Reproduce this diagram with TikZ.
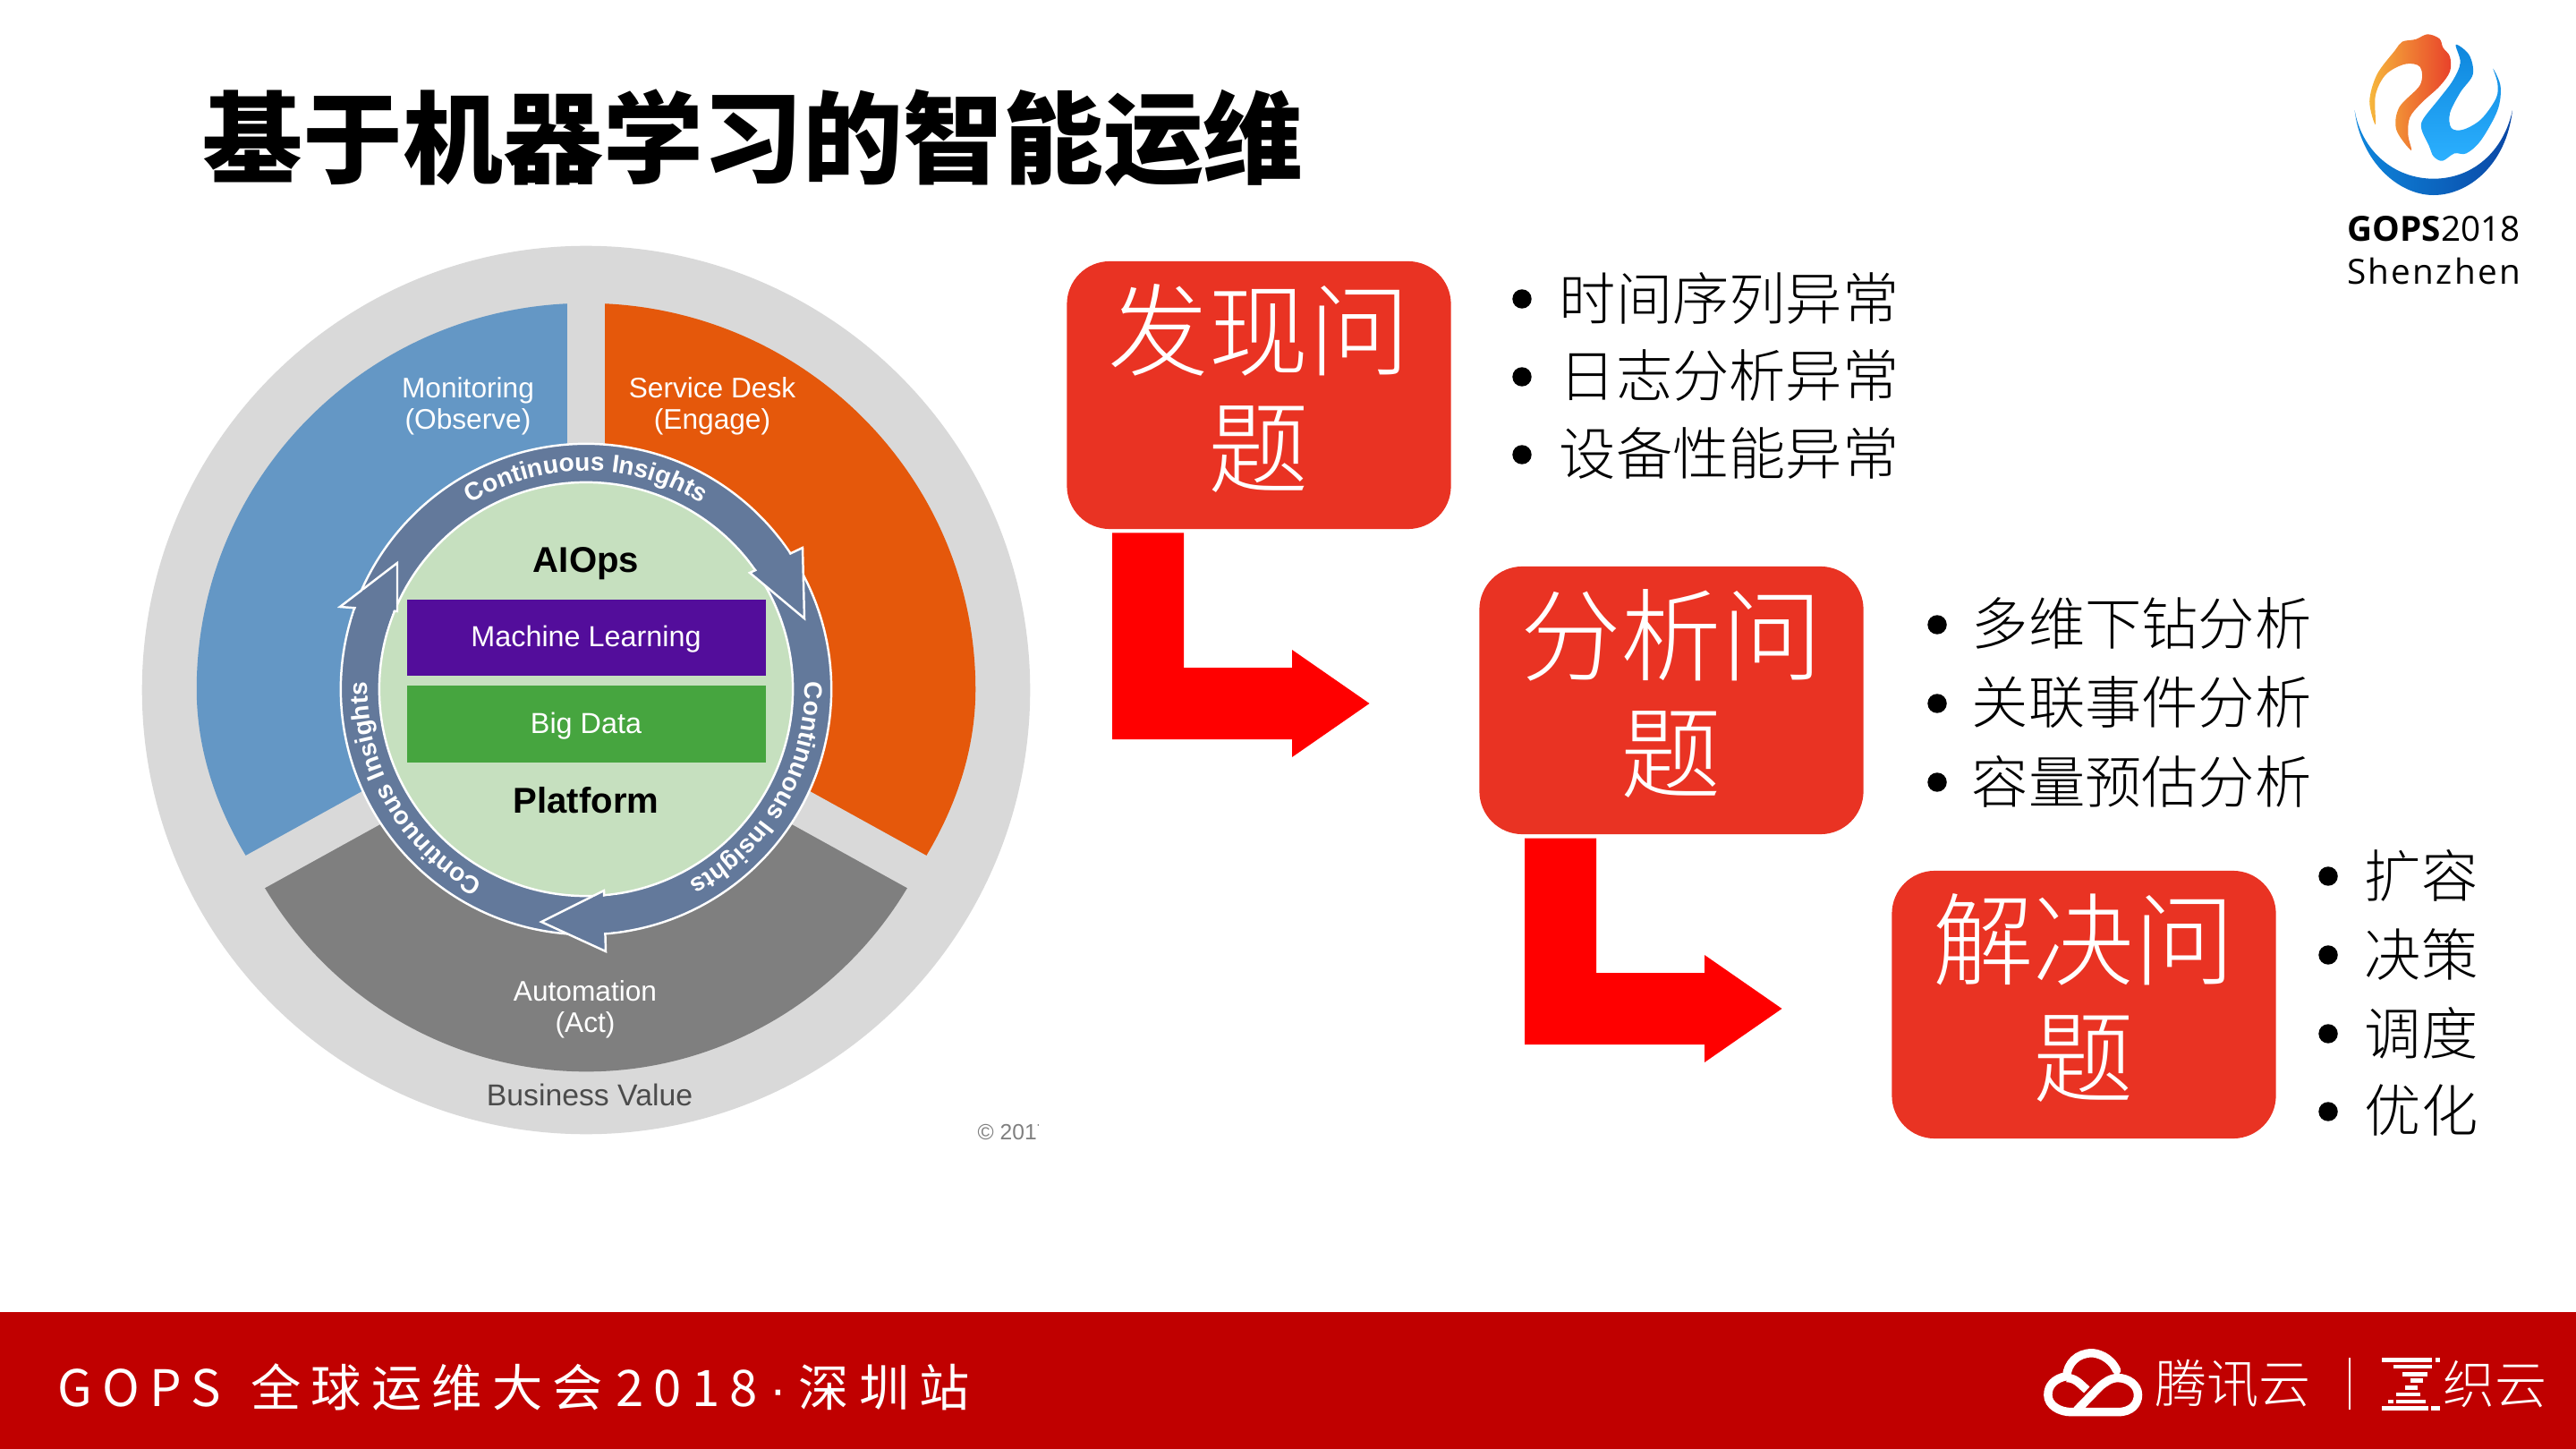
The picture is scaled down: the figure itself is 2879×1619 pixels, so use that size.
\documentclass[tikz,border=0pt]{standalone}
\usepackage{fontspec}
\setmainfont{Liberation Sans}
\newfontfamily\cjkthin{Noto Sans CJK SC Light}
\newfontfamily\cjkwide[LetterSpace=20]{Noto Sans CJK SC}
\newfontfamily\cjkblack{Noto Sans CJK SC Black}
\newfontfamily\logofont{Open Sans}
\newfontfamily\logowide[LetterSpace=6]{Open Sans}
\usetikzlibrary{decorations.text}
\definecolor{ringgray}{HTML}{D9D9D9}
\definecolor{monblue}{HTML}{6497C5}
\definecolor{deskorange}{HTML}{E5580B}
\definecolor{actgray}{HTML}{7F7F7F}
\definecolor{slateblue}{HTML}{63799B}
\definecolor{discgreen}{HTML}{C6E0BF}
\definecolor{mlpurple}{HTML}{530D9B}
\definecolor{datagreen}{HTML}{46A53F}
\definecolor{boxred}{HTML}{E93323}
\definecolor{barred}{HTML}{C00000}
\definecolor{logoyellow}{HTML}{F6B73C}
\definecolor{logored}{HTML}{E8412A}
\definecolor{logoblue}{HTML}{0E86DC}
\definecolor{logosky}{HTML}{2BB0FF}
\definecolor{logonavy}{HTML}{0A47A5}
\newcommand{\ringtext}{\fontsize{8}{10}\selectfont\bfseries\color{white}}
\tikzset{
	segtext/.style={inner sep=0pt,align=center,text=white,font=\fontsize{9}{10}\selectfont},
	bartext/.style={inner sep=0pt,text=white,font=\fontsize{9.2}{10}\selectfont},
	coretext/.style={inner sep=0pt,font=\fontsize{11.4}{13}\selectfont\bfseries},
	probbox/.style={fill=boxred,rounded corners=0.48cm,minimum width=4.29cm,minimum height=2.99cm,inner sep=0pt},
	probtext/.style={inner sep=0pt,align=center,text=white,font=\cjkthin\fontsize{32}{37.5}\selectfont},
	itemtext/.style={anchor=west,inner sep=0pt,font=\cjkthin\fontsize{18}{20}\selectfont},
	footlogo/.style={anchor=west,inner sep=0pt,text=white,font=\cjkthin\fontsize{16.5}{18}\selectfont},
	ringtip/.style={fill=slateblue,draw=white,line width=0.7pt,line join=miter},
	ringcover/.style={draw=slateblue,line width=0.4cm}
}
\begin{document}
\begin{tikzpicture}[x=0.01cm,y=-0.01cm]
	\useasboundingbox (0,0) rectangle (2879,1619);

	\node[anchor=west,inner sep=0pt,font=\cjkblack\fontsize{31.8}{36}\selectfont] (title) at (226,154) {基于机器学习的智能运维};

	\draw[fill][ringgray][draw=none] (655,771) circle [radius=4.96cm];
	\begin{scope}[shift={(655,770)},x=0.01cm,y=0.01cm]
		\fill[monblue] (0,0) -- (90:4.35cm and 4.31cm) arc[start angle=90,end angle=180,x radius=4.35cm,y radius=4.31cm] .. controls (-4.35cm,-0.75cm) and (-4.08cm,-1.45cm) .. (-3.68cm,-2.05cm) -- cycle;
		\fill[deskorange] (0,0) -- (90:4.35cm and 4.31cm) arc[start angle=90,end angle=0,x radius=4.35cm,y radius=4.31cm] .. controls (4.35cm,-0.75cm) and (4.08cm,-1.45cm) .. (3.68cm,-2.05cm) -- cycle;
		\fill[actgray] (0,0) -- (208:4.2cm and 4.27cm) arc[start angle=208,end angle=332,x radius=4.2cm,y radius=4.27cm] -- cycle;
		\draw[line width=0.42cm][ringgray] (0,0) -- (90:4.5cm);
		\draw[line width=0.42cm][ringgray] (0,0) -- (208.9:4.5cm);
		\draw[line width=0.42cm][ringgray] (0,0) -- (331.1:4.5cm);
		\draw[fill][slateblue][draw=white,line width=0.7pt] (0,0) circle [radius=2.74cm];
		\draw[fill][discgreen][draw=white,line width=0.7pt] (0,0) circle [radius=2.31cm];
	\end{scope}
	\draw[ringtip] (897,612) -- (899,691) -- (838,640) -- cycle;
	\draw[ringtip] (605,1030) -- (675,995) -- (677,1063) -- cycle;
	\draw[ringtip] (444,629) -- (380,678) -- (444,683) -- cycle;
	\begin{scope}[shift={(655,770)},x=0.01cm,y=0.01cm]
		\draw[ringcover] (31:2.525cm) arc[start angle=31,end angle=38,radius=2.525cm];
		\draw[ringcover] (-88:2.525cm) arc[start angle=-88,end angle=-81,radius=2.525cm];
		\draw[ringcover] (156:2.525cm) arc[start angle=156,end angle=164,radius=2.525cm];
		\path[decorate,decoration={text along path,text align=center,text={|\ringtext|Continuous Insights}}] (123:2.44cm) arc[start angle=123,end angle=57,radius=2.44cm];
		\path[decorate,decoration={text along path,text align=center,text={|\ringtext|Continuous Insights}}] (2:2.44cm) arc[start angle=2,end angle=-62,radius=2.44cm];
		\path[decorate,decoration={text along path,text align=center,text={|\ringtext|Continuous Insights}}] (242:2.44cm) arc[start angle=242,end angle=178,radius=2.44cm];
	\end{scope}

	\draw[fill][mlpurple][draw=none] (455,670) rectangle (856,755);
	\draw[fill][datagreen][draw=none] (455,766) rectangle (856,852);
	\node[segtext] (monitor) at (523,454) {Monitoring\\(Observe)};
	\node[segtext] (desk) at (796,454) {Service Desk\\(Engage)};
	\node[segtext] (auto) at (654,1128) {Automation\\(Act)};
	\node[segtext,text=black!70,font=\fontsize{9.6}{11}\selectfont] (value) at (659,1223) {Business Value};
	\node[coretext] (aiops) at (655,630) {AIOps};
	\node[bartext] (ml) at (655,714) {Machine Learning};
	\node[bartext] (bigdata) at (655,811) {Big Data};
	\node[coretext] (platform) at (655,894) {Platform};
	\begin{scope}
		\clip (1080,1240) rectangle (1160,1290);
		\node[anchor=west,inner sep=0pt,text=actgray,font=\fontsize{7}{8}\selectfont] (copyr) at (1092,1265) {© 2017};
	\end{scope}

	\node[probbox] (faxian) at (1407,441.5) {};
	\node[probbox] (fenxi) at (1868,782.5) {};
	\node[probbox] (jiejue) at (2329,1122.5) {};
	\node[probtext] (faxiantext) at (1407,434) {发现问\\题};
	\node[probtext] (fenxitext) at (1868,775) {分析问\\题};
	\node[probtext] (jiejuetext) at (2329,1115) {解决问\\题};

	\coordinate (arrowA) at (1243,595.5);
	\coordinate (arrowB) at (1704,936.5);
	\draw[fill][red][draw=none] (arrowA) -- ++(80,0) -- ++(0,150.5) -- ++(121,0) -- ++(0,-20) -- ++(86.5,60) -- ++(-86.5,60) -- ++(0,-20) -- ++(-201,0) -- cycle;
	\draw[fill][red][draw=none] (arrowB) -- ++(80,0) -- ++(0,150.5) -- ++(121,0) -- ++(0,-20) -- ++(86.5,60) -- ++(-86.5,60) -- ++(0,-20) -- ++(-201,0) -- cycle;

	\draw[fill] (1701,334) circle [radius=0.1cm];
	\draw[fill] (1701,421) circle [radius=0.1cm];
	\draw[fill] (1701,508) circle [radius=0.1cm];
	\node[itemtext] (itemA) at (1742,333) {时间序列异常};
	\node[itemtext] (itemB) at (1742,420) {日志分析异常};
	\node[itemtext] (itemC) at (1742,507) {设备性能异常};

	\draw[fill] (2165,698) circle [radius=0.1cm];
	\draw[fill] (2165,786) circle [radius=0.1cm];
	\draw[fill] (2165,874) circle [radius=0.1cm];
	\node[itemtext] (itemD) at (2203,697) {多维下钻分析};
	\node[itemtext] (itemE) at (2203,785) {关联事件分析};
	\node[itemtext] (itemF) at (2203,873) {容量预估分析};

	\draw[fill] (2602,979) circle [radius=0.1cm];
	\draw[fill] (2602,1067) circle [radius=0.1cm];
	\draw[fill] (2602,1155) circle [radius=0.1cm];
	\draw[fill] (2602,1242) circle [radius=0.1cm];
	\node[itemtext] (itemG) at (2642,978) {扩容};
	\node[itemtext] (itemH) at (2642,1066) {决策};
	\node[itemtext] (itemI) at (2642,1154) {调度};
	\node[itemtext] (itemJ) at (2642,1241) {优化};

	\begin{scope}[shift={(2560,20)},x=0.00333cm,y=-0.00333cm]
		\shade[left color=logoyellow,right color=logored] plot[smooth cycle,tension=0.55] coordinates {(405,445) (355,375) (365,300) (435,225) (435,165) (385,155) (320,190) (285,260) (285,358) (265,280) (290,190) (350,110) (375,80) (420,72) (460,55) (500,70) (512,100) (535,130) (535,180) (500,230) (440,285) (400,335) (395,395)};
		\shade[top color=logoblue,bottom color=logosky] plot[smooth cycle,tension=0.55] coordinates {(555,90) (600,125) (612,190) (570,250) (535,320) (540,370) (580,375) (640,340) (690,270) (695,220) (680,170) (705,230) (695,310) (640,410) (590,455) (550,455) (510,480) (480,465) (465,430) (440,375) (445,340) (500,270) (545,210) (570,150)};
		\shade[left color=logoblue,middle color=logosky,right color=logonavy] (215,310) .. controls (235,480) and (360,595) .. (480,595) .. controls (600,595) and (725,490) .. (745,310) .. controls (715,450) and (610,540) .. (480,540) .. controls (350,540) and (240,450) .. (215,310) -- cycle;
	\end{scope}
	\node[inner sep=0pt,font=\fontsize{11}{12}\selectfont] (gopsyear) at (2720,256) {{\logofont\bfseries GOPS}{\logofont 2018}};
	\node[inner sep=0pt,font=\logowide\fontsize{11}{12}\selectfont] (shenzhen) at (2720,303) {Shenzhen};

	\draw[fill][barred][draw=none] (0,1466) rectangle (2879,1619);
	\node[anchor=west,inner sep=0pt,text=white,font=\cjkwide\fontsize{16}{18}\selectfont] (gopsname) at (64,1550) {GOPS\hspace{0.09cm} 全球运维大会\hspace{0.14cm}2018\hspace{0.14cm}{\rmfamily·}\hspace{0.13cm}深圳站};

	\begin{scope}[shift={(2200,1460)},x=0.00433cm,y=-0.00334cm]
		\draw[white,line width=2.7pt,line cap=round] (382,213) .. controls (365,165) and (330,155) .. (318,155) .. controls (280,155) and (255,190) .. (253,232) .. controls (220,240) and (205,265) .. (205,295) .. controls (205,330) and (235,352) .. (265,352) -- (385,352) .. controls (420,352) and (437,325) .. (437,295) .. controls (437,260) and (410,238) .. (385,238) .. controls (365,238) and (350,255) .. (340,265) -- (280,345);
		\draw[white,line width=2.7pt] (253,238) .. controls (275,238) and (285,255) .. (305,278);
		\fill[white] (1065,170) rectangle (1195,185);
		\fill[white] (1205,170) rectangle (1215,185);
		\fill[white] (1095,195) rectangle (1195,207);
		\fill[white] (1118,218) rectangle (1183,232);
		\fill[white] (1140,240) rectangle (1172,254);
		\fill[white] (1125,264) rectangle (1158,277);
		\fill[white] (1103,287) rectangle (1165,300);
		\fill[white] (1082,310) rectangle (1095,322);
		\fill[white] (1103,310) rectangle (1178,322);
		\fill[white] (1065,333) rectangle (1185,347);
		\fill[white] (1192,333) rectangle (1215,347);
	\end{scope}
	\node[footlogo] (tencent) at (2408,1546) {腾讯云};
	\draw[white,line width=0.6pt] (2626,1517) -- (2626,1575);
	\node[footlogo] (zhiyun) at (2730,1547) {织云};
\end{tikzpicture}
\end{document}
